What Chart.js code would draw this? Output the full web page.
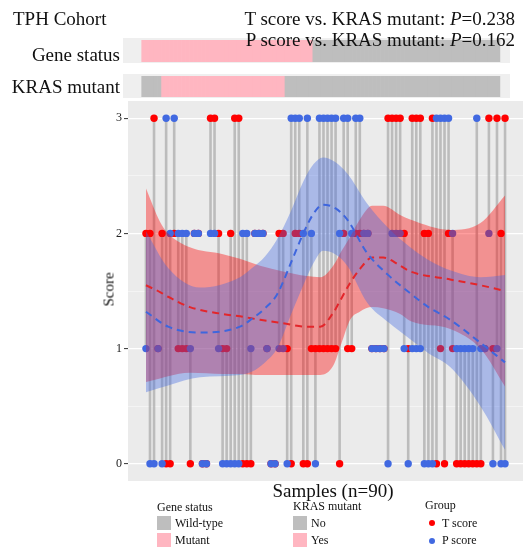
<!DOCTYPE html>
<html><head><meta charset="utf-8">
<script src="https://cdn.jsdelivr.net/npm/chart.js@4.4.1/dist/chart.umd.min.js"></script>
<style>
html,body{margin:0;padding:0;background:#fff;}
#wrap{position:relative;width:527px;height:550px;overflow:hidden;font-family:'Liberation Serif','Times New Roman',serif;color:#111;}
.t{position:absolute;white-space:nowrap;line-height:1;}
canvas{position:absolute;}
.sq{position:absolute;width:14px;height:14px;}
.dot{position:absolute;width:6px;height:6px;border-radius:50%;}
</style></head><body>
<div id="wrap">
<canvas id="main" width="527" height="550" style="left:0;top:0;width:527px;height:550px"></canvas>
<canvas id="bar1" width="387" height="25" style="left:123px;top:38px;width:387px;height:25px"></canvas>
<canvas id="bar2" width="387" height="24" style="left:123px;top:74px;width:387px;height:24px"></canvas>

<div class="t" style="left:13px;top:9px;font-size:19px">TPH Cohort</div>
<div class="t" style="right:12px;top:9px;font-size:19px">T score vs. KRAS mutant: <i>P</i>=0.238</div>
<div class="t" style="right:12px;top:30px;font-size:19px">P score vs. KRAS mutant: <i>P</i>=0.162</div>
<div class="t" style="right:407px;top:45px;font-size:19px">Gene status</div>
<div class="t" style="right:407px;top:77px;font-size:19px">KRAS mutant</div>

<div class="t" style="left:59px;top:282px;width:100px;text-align:center;font-size:15px;transform:rotate(-90deg);transform-origin:50% 50%">Score</div>
<div class="t" style="left:233px;top:481px;width:200px;text-align:center;font-size:19px">Samples (n=90)</div>

<div class="t" style="left:157px;top:501px;font-size:12px">Gene status</div>
<div class="sq" style="left:157px;top:516px;background:#BEBEBE"></div>
<div class="t" style="left:175px;top:517px;font-size:12px">Wild-type</div>
<div class="sq" style="left:157px;top:533px;background:#FFB6C1"></div>
<div class="t" style="left:175px;top:534px;font-size:12px">Mutant</div>

<div class="t" style="left:293px;top:500px;font-size:12px">KRAS mutant</div>
<div class="sq" style="left:293px;top:516px;background:#BEBEBE"></div>
<div class="t" style="left:311px;top:517px;font-size:12px">No</div>
<div class="sq" style="left:293px;top:533px;background:#FFB6C1"></div>
<div class="t" style="left:311px;top:534px;font-size:12px">Yes</div>

<div class="t" style="left:425px;top:499px;font-size:12px">Group</div>
<div class="dot" style="left:429px;top:520px;background:#FF0000"></div>
<div class="t" style="left:442px;top:517px;font-size:12px">T score</div>
<div class="dot" style="left:429px;top:538px;background:#4169E1"></div>
<div class="t" style="left:442px;top:534px;font-size:12px">P score</div>
</div>
<script>
// ---- data ----
const tScore = [2,2,3,1,2,0,0,2,1,1, 1,0,2,2,0,0,3,3,2,1, 1,2,3,3,0,0,0,2,2,2,
                1,0,0,2,2,1,0,2,2,0, 0,1,1,1,1,1,1,1,0,2, 1,1,2,2,2,2,1,1,1,1,
                3,3,3,3,2,1,3,3,3,2, 2,3,0,1,0,2,1,0,0,0, 0,0,0,0,1,3,1,3,2,3];
const pScore = [1,0,0,1,0,3,2,3,2,2, 2,1,2,2,0,0,2,2,1,0, 0,0,0,0,2,2,1,2,2,2,
                1,0,0,1,1,0,3,3,3,2, 3,2,0,3,3,3,3,3,2,3, 3,2,3,3,2,2,1,1,1,1,
                0,2,2,2,1,0,1,1,1,0, 0,0,3,3,3,3,2,1,1,1, 1,1,3,1,1,2,0,1,0,0];
const geneStatus = ['M','M','M','M','M','M','M','M','M','M','M','M','M','M','M','M','M','M','M','M',
                    'M','M','M','M','M','M','M','M','M','M','M','M','M','M','M','M','M','M','M','M',
                    'M','M','M','W','W','W','W','W','W','W','W','W','W','W','W','W','W','W','W','W',
                    'W','W','W','W','W','W','W','W','W','W','W','W','W','W','W','W','W','W','W','W',
                    'W','W','W','W','W','W','W','W','W','W'];
const krasMutant = ['N','N','N','N','N','Y','Y','Y','Y','Y','Y','Y','Y','Y','Y','Y','Y','Y','Y','Y',
                    'Y','Y','Y','Y','Y','Y','Y','Y','Y','Y','Y','Y','Y','Y','Y','Y','N','N','N','N',
                    'N','N','N','N','N','N','N','N','N','N','N','N','N','N','N','N','N','N','N','N',
                    'N','N','N','N','N','N','N','N','N','N','N','N','N','N','N','N','N','N','N','N',
                    'N','N','N','N','N','N','N','N','N','N'];
// smoothed fits
const tCurveX = [1,4.5,6.5,11.9,20.1,24.3,29.3,35,40.9,44.2,47.4,49.5,51.6,54,57.1,59.8,64,66.5,76.4,83.9,90];
const tFit    = [1.55,1.49,1.45,1.36,1.30,1.28,1.25,1.22,1.19,1.19,1.31,1.44,1.57,1.69,1.79,1.79,1.72,1.67,1.60,1.55,1.50];
const tUpper  = [2.39,2.10,2.00,1.88,1.82,1.78,1.72,1.67,1.63,1.62,1.72,1.85,1.97,2.12,2.24,2.24,2.16,2.12,2.03,2.09,2.33];
const tLower  = [0.71,0.74,0.76,0.79,0.78,0.78,0.77,0.77,0.77,0.77,0.85,1.05,1.25,1.32,1.36,1.35,1.30,1.24,1.17,1.00,0.67];
const pCurveX = [1,6.5,14.4,24.3,27.3,30.5,33.5,37,40,42.5,44.9,47.9,50.9,55.8,61,66.5,71,76.4,83.9,90];
const pFit    = [1.32,1.19,1.14,1.19,1.26,1.35,1.47,1.75,2.00,2.17,2.25,2.22,2.12,1.83,1.64,1.48,1.36,1.25,1.05,0.88];
const pUpper  = [2.02,1.70,1.53,1.62,1.70,1.80,1.95,2.20,2.45,2.60,2.66,2.62,2.52,2.26,2.05,1.88,1.77,1.68,1.62,1.64];
const pLower  = [0.62,0.68,0.75,0.77,0.80,0.88,1.00,1.30,1.55,1.74,1.85,1.82,1.72,1.40,1.23,1.08,0.96,0.84,0.50,0.12];
const yTicks = [0,0.5,1,1.5,2,2.5,3];

// ---- helpers ----
const pts = (xs, ys) => xs.map((x,i)=>({x:x, y:ys[i]}));
const segs = [];
tScore.forEach((t,i)=>{ const p=pScore[i]; if(t!==p){ segs.push({x:i+1,y:Math.min(t,p)},{x:i+1,y:Math.max(t,p)},{x:i+1,y:null}); }});

const panelBg = {
  id:'panelBg',
  beforeDraw(chart, args, opts){
    const {ctx, chartArea:a} = chart;
    ctx.save(); ctx.fillStyle = opts.color; ctx.fillRect(a.left, a.top, a.right-a.left, a.bottom-a.top); ctx.restore();
  }
};

const common = {responsive:false, animation:false, events:[], plugins:{legend:{display:false}, tooltip:{enabled:false}}};

new Chart(document.getElementById('main'), {
  type:'scatter',
  data:{datasets:[
    {data:segs, showLine:true, borderColor:'rgba(180,180,180,0.85)', borderWidth:2.6, pointRadius:0, spanGaps:false, order:10},
    {data:tScore.map((v,i)=>({x:i+1,y:v})), pointRadius:3.7, pointBackgroundColor:'#FF0000', pointBorderWidth:0, order:9},
    {data:pScore.map((v,i)=>({x:i+1,y:v})), pointRadius:3.7, pointBackgroundColor:'#4169E1', pointBorderWidth:0, order:8},
    {data:pts(tCurveX,tUpper), showLine:true, borderWidth:0, borderColor:'transparent', pointRadius:0, fill:'+1', backgroundColor:'rgba(255,0,0,0.38)', cubicInterpolationMode:'monotone', order:6},
    {data:pts(tCurveX,tLower), showLine:true, borderWidth:0, borderColor:'transparent', pointRadius:0, fill:false, cubicInterpolationMode:'monotone', order:6},
    {data:pts(pCurveX,pUpper), showLine:true, borderWidth:0, borderColor:'transparent', pointRadius:0, fill:'+1', backgroundColor:'rgba(65,105,225,0.38)', cubicInterpolationMode:'monotone', order:5},
    {data:pts(pCurveX,pLower), showLine:true, borderWidth:0, borderColor:'transparent', pointRadius:0, fill:false, cubicInterpolationMode:'monotone', order:5},
    {data:pts(tCurveX,tFit), showLine:true, borderWidth:2, borderColor:'#E3262B', borderDash:[7,5], pointRadius:0, cubicInterpolationMode:'monotone', order:2},
    {data:pts(pCurveX,pFit), showLine:true, borderWidth:2, borderColor:'#3F66DD', borderDash:[7,5], pointRadius:0, cubicInterpolationMode:'monotone', order:1}
  ]},
  options:Object.assign({}, common, {
    layout:{padding:{left:0,right:3,top:101,bottom:69}},
    plugins:Object.assign({}, common.plugins, {panelBg:{color:'#EBEBEB'}}),
    scales:{
      x:{type:'linear', min:-3.45, max:94.45, display:false},
      y:{type:'linear', min:-0.15, max:3.15,
         afterBuildTicks:(s)=>{ s.ticks = yTicks.map(v=>({value:v})); },
         afterFit:(s)=>{ s.width = 128; },
         border:{display:false},
         grid:{color:(c)=> Number.isInteger(c.tick.value)?'#FFFFFF':'rgba(255,255,255,0.75)',
               lineWidth:(c)=> Number.isInteger(c.tick.value)?1.2:0.6,
               tickColor:(c)=> Number.isInteger(c.tick.value)?'#333':'rgba(0,0,0,0)',
               tickLength:4, tickWidth:1},
         ticks:{padding:2, color:'#222', font:{family:'Liberation Serif', size:12},
                callback:(v)=> Number.isInteger(v)? String(v) : ''}
      }
    }
  }),
  plugins:[panelBg]
});

function tileChart(id, statuses, colorMap){
  new Chart(document.getElementById(id), {
    type:'bar',
    data:{datasets:[{data:statuses.map((s,i)=>({x:i+1,y:1})), backgroundColor:statuses.map(s=>colorMap[s]),
      barPercentage:1, categoryPercentage:1, borderWidth:0}]},
    options:Object.assign({}, common, {
      layout:{padding:{left:0,right:0,top:2,bottom:1}},
      scales:{x:{type:'linear', min:-4.2, max:93.04, offset:false, grid:{offset:false}, display:false},
              y:{min:0,max:1,display:false}}
    }),
    plugins:[{id:'fullBg', beforeDraw(ch){const c=ch.ctx; c.save(); c.fillStyle='#EFEFEF'; c.fillRect(0,0,ch.width,ch.height); c.restore();}}]
  });
}
tileChart('bar1', geneStatus, {M:'#FFB6C1', W:'#BEBEBE'});
tileChart('bar2', krasMutant, {Y:'#FFB6C1', N:'#BEBEBE'});
</script>
</body></html>
